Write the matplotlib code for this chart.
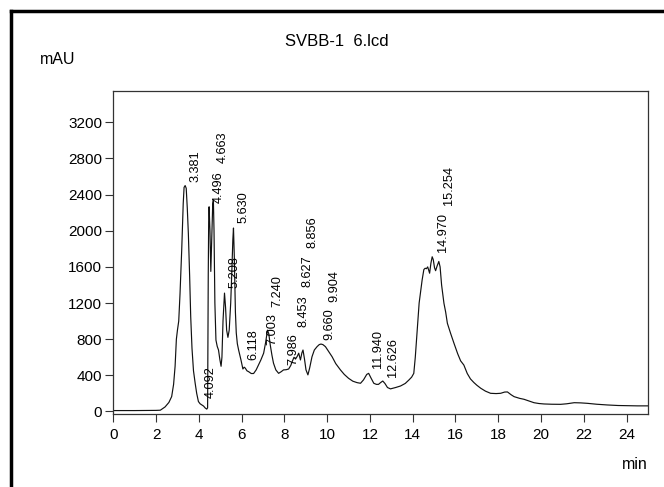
import numpy as np
import matplotlib
matplotlib.use("Agg")
import matplotlib.pyplot as plt
from matplotlib.lines import Line2D

plt.rcParams["font.family"] = ["Liberation Sans", "DejaVu Sans"]

# chromatogram trace (min, mAU)
time_min = [
    0.0, 1.0, 2.0, 2.2, 2.42, 2.6, 2.73, 2.82, 2.89, 2.95, 3.0, 3.06, 3.12, 3.2,
    3.27, 3.31, 3.36, 3.41, 3.46, 3.51, 3.57, 3.62, 3.68, 3.75, 3.83, 3.9, 3.98,
    4.06, 4.14, 4.22, 4.30, 4.37, 4.41, 4.44, 4.46, 4.48, 4.52, 4.56, 4.60, 4.65,
    4.68, 4.71, 4.75, 4.80, 4.86, 4.92, 4.98, 5.04, 5.08, 5.13, 5.2, 5.25, 5.3,
    5.36, 5.42, 5.49, 5.54, 5.59, 5.62, 5.66, 5.71, 5.75, 5.8, 5.86, 5.97, 6.06,
    6.12, 6.17, 6.25, 6.33, 6.45, 6.56, 6.68, 6.79, 6.9, 7.03, 7.12, 7.21, 7.27,
    7.34, 7.42, 7.49, 7.6, 7.73, 7.85, 7.96, 8.08, 8.2, 8.3, 8.36, 8.45, 8.52,
    8.6, 8.67, 8.75, 8.82, 8.87, 8.94, 9.01, 9.1, 9.18, 9.29, 9.4, 9.53, 9.63,
    9.71, 9.8, 9.92, 10.05, 10.23, 10.4, 10.62, 10.8, 11.0, 11.2, 11.4, 11.56,
    11.7, 11.85, 11.94, 12.05, 12.18, 12.3, 12.4, 12.5, 12.6, 12.7, 12.82, 12.96,
    13.2, 13.43, 13.65, 13.82, 13.95, 14.05, 14.12, 14.21, 14.3, 14.44, 14.52,
    14.58, 14.64, 14.70, 14.75, 14.79, 14.85, 14.91, 14.96, 15.02, 15.07, 15.14,
    15.22, 15.28, 15.35, 15.46, 15.54, 15.62, 15.77, 15.93, 16.1, 16.24, 16.39,
    16.55, 16.7, 16.86, 17.0, 17.18, 17.4, 17.64, 17.9, 18.11, 18.3, 18.43, 18.6,
    18.74, 19.0, 19.2, 19.45, 19.67, 19.9, 20.14, 20.5, 20.92, 21.2, 21.55, 21.85,
    22.17, 22.6, 23.1, 23.6, 24.05, 24.5, 25.0,
]
absorbance = [
    10, 10, 12, 14, 50, 100, 165, 300, 500, 800, 900, 1000, 1300, 1790,
    2300, 2480, 2500, 2470, 2250, 1970, 1500, 1050, 700, 450, 310, 200, 110,
    85, 72, 60, 38, 26, 40, 1500, 2100, 2265, 2000, 1550, 1900, 2300,
    2340, 2000, 1200, 790, 720, 680, 580, 500, 600, 1000, 1310, 1150, 900,
    820, 900, 1200, 1530, 1900, 2030, 1700, 1100, 870, 750, 680, 570, 470,
    490, 480, 450, 440, 420, 420, 460, 515, 570, 645, 760, 900, 860,
    735, 620, 535, 460, 422, 440, 460, 462, 470, 510, 550, 600, 580,
    610, 645, 570, 650, 680, 580, 460, 405, 480, 605, 680, 718, 740,
    746, 740, 717, 670, 606, 530, 460, 410, 367, 335, 319, 312,
    350, 410, 422, 370, 312, 300, 300, 320, 337, 310, 265, 250,
    265, 282, 310, 348, 380, 422, 600, 900, 1200, 1455, 1570,
    1585, 1580, 1600, 1560, 1530, 1640, 1712, 1680, 1590, 1558, 1610,
    1660, 1600, 1400, 1197, 1100, 976, 865, 754, 640, 560, 514,
    420, 360, 320, 290, 257, 225, 201, 198, 201, 215, 216, 185,
    164, 145, 135, 115, 97, 88, 83, 80, 79, 85, 97, 95,
    90, 80, 72, 66, 64, 62, 62,
]

# peak retention times and where their labels start
peak_times = [3.381, 4.092, 4.496, 4.663, 5.208, 5.630, 6.118, 7.003, 7.240,
              7.986, 8.453, 8.627, 8.856, 9.660, 9.904, 11.940, 12.626,
              14.970, 15.254]
label_heights = [2542, 146, 2303, 2746, 1363, 2082, 570, 736, 1159,
                 514, 938, 1381, 1805, 791, 1215, 478, 385,
                 1768, 2284]

fig = plt.figure(figsize=(6.64, 4.87), dpi=100)
ax = fig.add_axes([0.1706, 0.1499, 0.8053, 0.6639])

ax.plot(time_min, absorbance, color="#111111", linewidth=0.85)

for t, h in zip(peak_times, label_heights):
    ax.annotate("{:.3f}".format(t), (t, h), xytext=(7, 0),
                textcoords="offset points", rotation=90,
                ha="center", va="bottom", fontsize=9.2)

ax.set_xlim(0, 25)
ax.set_ylim(-28, 3550)
ax.set_xticks(np.arange(0, 25, 2))
ax.set_yticks(np.arange(0, 3201, 400))
ax.tick_params(direction="out", length=6, width=0.8, labelsize=11,
               color="#333333")
ax.tick_params(axis="x", pad=4)
ax.tick_params(axis="y", pad=2)
for s in ax.spines.values():
    s.set_color("#333333")
    s.set_linewidth(0.9)

fig.text(0.507, 0.914, "SVBB-1  6.lcd", ha="center", va="center", fontsize=12)
fig.text(0.06, 0.877, "mAU", ha="left", va="center", fontsize=11.5)
fig.text(0.976, 0.047, "min", ha="right", va="center", fontsize=11.5)

# thick outer frame (top and left edges visible)
fig.add_artist(Line2D([0.0166, 1.0], [1 - 11 / 487, 1 - 11 / 487],
                      transform=fig.transFigure, color="black", linewidth=2.5))
fig.add_artist(Line2D([0.0166, 0.0166], [0.0, 1 - 11 / 487],
                      transform=fig.transFigure, color="black", linewidth=2.5))

fig.savefig("out.png", dpi=100)
